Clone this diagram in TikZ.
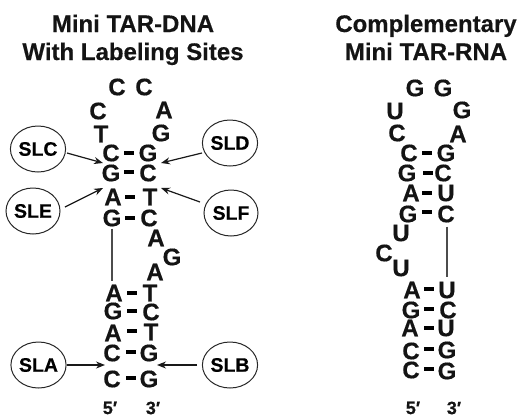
\documentclass[tikz,border=0pt]{standalone}
\usepackage{fontspec}
\setmainfont{Liberation Sans}
\newfontfamily\heavy[BoldFont={Liberation Sans Bold},BoldFeatures={FakeBold=0.35}]{Liberation Sans}
\usetikzlibrary{arrows.meta,shapes.geometric,calc}
\tikzset{
 x=1pt,y=-1pt,
 ttl/.style={font=\heavy\fontsize{24}{25}\selectfont\bfseries,inner sep=0pt,anchor=base,text=black!92},
 base/.style={font=\heavy\fontsize{24}{25}\selectfont\bfseries,inner sep=0pt,text=black!92},
 end/.style={font=\heavy\fontsize{18}{20}\selectfont\bfseries,inner sep=0pt,text=black!92},
 site/.style={draw=black!85,line width=1pt,ellipse,minimum width=54pt,minimum height=46pt,inner sep=0pt,font=\heavy\fontsize{19.5}{20}\selectfont\bfseries},
 pair/.style={fill=black,minimum width=9.5pt,minimum height=4.2pt,inner sep=0pt},
 tip/.style={draw=black!90,line width=1.2pt,-{Stealth[length=9pt,width=7pt]}},
 stem/.style={draw=black!70,line width=1.2pt}
}
\begin{document}
\begin{tikzpicture}
\useasboundingbox (0,0) rectangle (517,416);
\node[ttl] (t1) at (133,32) {Mini TAR-DNA};
\node[ttl] (t2) at (133,60) {With Labeling Sites};
\node[ttl] (t3) at (426,32) {Complementary};
\node[ttl] (t4) at (426,60) {Mini TAR-RNA};
% left strand
\foreach \n/\l/\x/\y in {a1/C/117/87,a2/C/144/87,a3/C/98/111,a4/A/164/110,a5/T/101/134,a6/G/161/133,
 a7/C/111/153,a8/G/148/153,a9/G/111/173,a10/C/148/173,a11/A/113/197,a12/T/150/197,a13/G/112/218,a14/C/149/218,
 a15/A/156/238,a16/G/172/257,a17/A/155/272,a18/A/114/293,a19/T/150/293,a20/G/113/311,a21/C/151/312,
 a22/A/113/333,a23/T/151/332,a24/C/112/353,a25/G/149/353,a26/C/112/379,a27/G/149/379}
 {\node[base] (\n) at (\x,\y) {\l};}
\foreach \n/\x/\y in {p1/129/153,p2/129/172,p3/130/197,p4/130/218,p5/132/293,p6/132/311,p7/132/331,p8/131/352,p9/131/378}
 {\node[pair] (\n) at (\x,\y) {};}
\node[end] (e1) at (110,408) {5′};
\node[end] (e2) at (153,408) {3′};
% right strand
\foreach \n/\l/\x/\y in {b1/G/415/88,b2/G/443/88,b3/U/395/111,b4/G/462/110,b5/C/397/133,b6/A/458/134,
 b7/C/409/153,b8/G/446/153,b9/G/407/173,b10/C/443/173,b11/A/411/193,b12/U/446/193,b13/G/408/214,b14/C/446/214,
 b15/U/401/233,b16/C/384/253,b17/U/401/268,b18/A/412/290,b19/U/447/290,b20/G/411/310,b21/C/448/310,
 b22/A/410/328,b23/U/446/328,b24/C/411/351,b25/G/447/350,b26/C/411/370,b27/G/447/371}
 {\node[base] (\n) at (\x,\y) {\l};}
\foreach \n/\x/\y in {q1/427/153,q2/428/173,q3/427/193,q4/427/212,q5/429/289,q6/429/309,q7/429/328,q8/429/349,q9/429/369}
 {\node[pair] (\n) at (\x,\y) {};}
\node[end] (e3) at (413,408) {5′};
\node[end] (e4) at (454,408) {3′};
% sites
\node[site] (slc) at (38,149) {SLC};
\node[site] (sld) at (230,143) {SLD};
\node[site] (sle) at (33,211) {SLE};
\node[site] (slf) at (231,213) {SLF};
\node[site] (sla) at (38.5,365) {SLA};
\node[site] (slb) at (230,365) {SLB};
% arrow ends
\coordinate (c1) at (103,163); \coordinate (c2) at (161,163);
\coordinate (c3) at (103,188); \coordinate (c4) at (161,188);
\coordinate (c5) at (105,365); \coordinate (c6) at (157,365);
\draw[tip] (slc) ++(29,4) -- (c1);
\draw[tip] (sld) ++(-28,10) -- (c2);
\draw[tip] (sle) ++(32,-4) -- (c3);
\draw[tip] (slf) ++(-31,-11) -- (c4);
\draw[tip] (sla) ++(28.5,0) -- (c5);
\draw[tip] (slb) ++(-33,0) -- (c6);
\draw[stem] (a13.south) ++(0,2) -- ($(a13.south |- a18.north)+(0,-4)$);
\draw[stem] (b14.south) ++(1,4) -- ($(b19.north)+(0,-4)$);
\end{tikzpicture}
\end{document}
